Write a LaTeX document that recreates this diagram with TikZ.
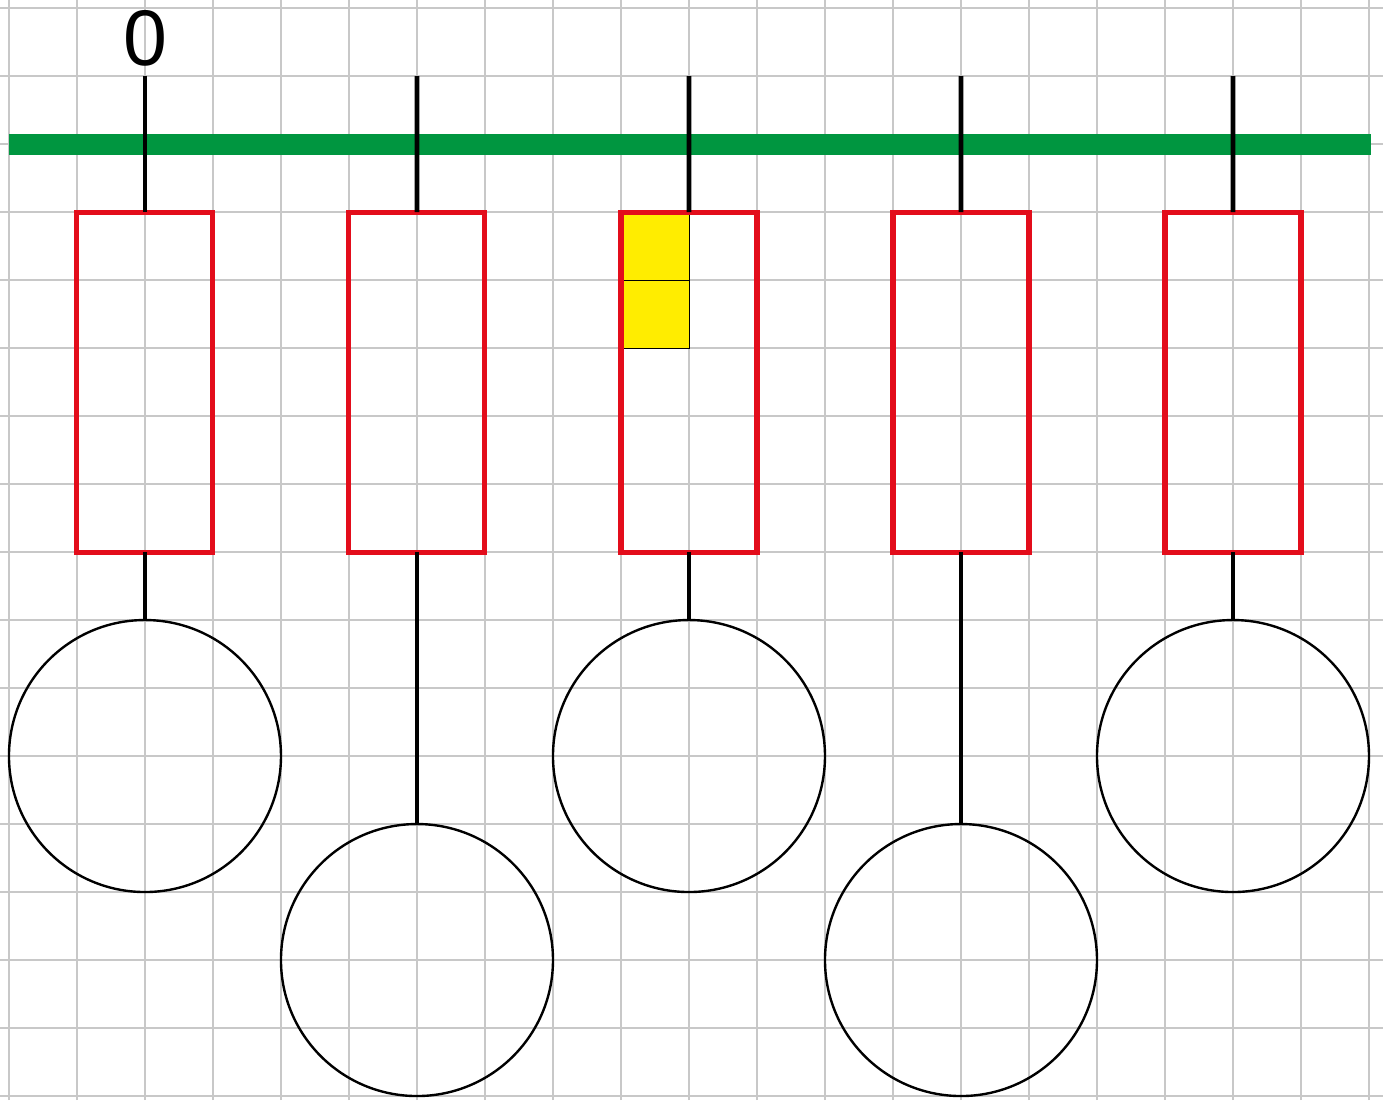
\documentclass[tikz,border=0pt]{standalone}
\usepackage{fontspec}
\setmainfont{Liberation Sans}
\usepackage{tikz}
\usetikzlibrary{positioning}

\definecolor{gridgray}{RGB}{200,200,200}
\definecolor{railgreen}{RGB}{0,150,64}
\definecolor{boxred}{RGB}{227,13,27}
\definecolor{cellyellow}{RGB}{255,237,0}

\begin{document}
\begin{tikzpicture}[
gridline/.style={
draw=gridgray,
line width=1pt
},
rail/.style={
draw=railgreen,
line width=8.8pt
},
rod/.style={
draw=black,
line width=1.9pt
},
slot/.style={
draw=boxred,
line width=2.1pt,
minimum width=2cm,
minimum height=5cm,
inner sep=0pt,
outer sep=0pt
},
cell/.style={
draw=black,
line width=0.4pt,
fill=cellyellow,
minimum width=1cm,
minimum height=1cm,
inner sep=0pt,
outer sep=0pt
},
weight/.style={
draw=black,
circle,
line width=1pt,
minimum size=4cm,
inner sep=0pt,
outer sep=0pt
}
]

\useasboundingbox (-0.132,0.118) rectangle (20.206,-16.059);

%%%%%%%%%%%%%%%%%%%%%%%%%%%%%%%%%%%%%%%%%%%%%
% Grid and rail
%%%%%%%%%%%%%%%%%%%%%%%%%%%%%%%%%%%%%%%%%%%%%

\draw[gridline, step=1] (-0.132,0.118) grid (20.206,-16.059);

\coordinate (railL) at (0,-2);
\coordinate (railR) at (20.03,-2);
\draw[rail] (railL)--(railR);

%%%%%%%%%%%%%%%%%%%%%%%%%%%%%%%%%%%%%%%%%%%%%
% Yellow cells
%%%%%%%%%%%%%%%%%%%%%%%%%%%%%%%%%%%%%%%%%%%%%

\node[cell] (cellA) at (9.5,-3.5) {};

\node[cell, below=0cm of cellA] (cellB) {};

%%%%%%%%%%%%%%%%%%%%%%%%%%%%%%%%%%%%%%%%%%%%%
% Slots
%%%%%%%%%%%%%%%%%%%%%%%%%%%%%%%%%%%%%%%%%%%%%

\node[slot] (slot1) at (2,-5.5) {};

\node[slot, right=2cm of slot1] (slot2) {};

\node[slot, right=2cm of slot2] (slot3) {};

\node[slot, right=2cm of slot3] (slot4) {};

\node[slot, right=2cm of slot4] (slot5) {};

%%%%%%%%%%%%%%%%%%%%%%%%%%%%%%%%%%%%%%%%%%%%%
% Hooks and label
%%%%%%%%%%%%%%%%%%%%%%%%%%%%%%%%%%%%%%%%%%%%%

\coordinate (top1) at (2,-1);
\coordinate (top2) at (6,-1);
\coordinate (top3) at (10,-1);
\coordinate (top4) at (14,-1);
\coordinate (top5) at (18,-1);

\node[font=\fontsize{33}{40}\selectfont, inner sep=0pt] (zero) at (2,-0.45) {0};

%%%%%%%%%%%%%%%%%%%%%%%%%%%%%%%%%%%%%%%%%%%%%
% Weights
%%%%%%%%%%%%%%%%%%%%%%%%%%%%%%%%%%%%%%%%%%%%%

\node[weight, below=1cm of slot1] (ball1) {};

\node[weight, below=4cm of slot2] (ball2) {};

\node[weight, below=1cm of slot3] (ball3) {};

\node[weight, below=4cm of slot4] (ball4) {};

\node[weight, below=1cm of slot5] (ball5) {};

%%%%%%%%%%%%%%%%%%%%%%%%%%%%%%%%%%%%%%%%%%%%%
% Connections
%%%%%%%%%%%%%%%%%%%%%%%%%%%%%%%%%%%%%%%%%%%%%

\draw[rod] (top1)--(slot1.north);

\draw[rod] (top2)--(slot2.north);

\draw[rod] (top3)--(slot3.north);

\draw[rod] (top4)--(slot4.north);

\draw[rod] (top5)--(slot5.north);

\draw[rod] (slot1.south)--(ball1.north);

\draw[rod] (slot2.south)--(ball2.north);

\draw[rod] (slot3.south)--(ball3.north);

\draw[rod] (slot4.south)--(ball4.north);

\draw[rod] (slot5.south)--(ball5.north);

\end{tikzpicture}
\end{document}
